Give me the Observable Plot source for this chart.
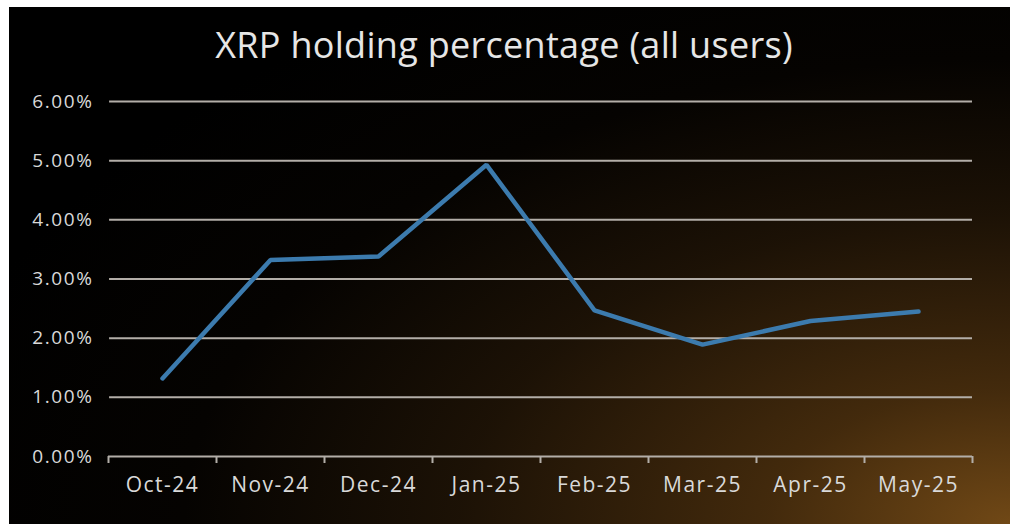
<!DOCTYPE html>
<html>
<head>
<meta charset="utf-8">
<script src="https://cdn.jsdelivr.net/npm/d3@7"></script>
<script src="https://cdn.jsdelivr.net/npm/@observablehq/plot@0.6"></script>
<style>
  html, body { margin: 0; padding: 0; background: #fff; }
  #frame {
    position: absolute; left: 9px; top: 7px; width: 1001px; height: 517px;
    background:
      radial-gradient(ellipse 110% 120% at 100% 100%, rgba(112,72,22,1) 0%, rgba(70,44,13,0.95) 22%, rgba(35,22,7,0.8) 50%, rgba(10,6,2,0.5) 75%, rgba(0,0,0,0) 100%),
      #000;
    overflow: hidden;
    font-family: "Open Sans", "Noto Sans", sans-serif;
  }
  #title {
    position: absolute; left: 0; top: 13px; width: 990px; text-align: center;
    color: #e6e6e6; font-size: 36px; font-weight: 400; letter-spacing: 0.3px;
  }
  #chart { position: absolute; left: 0; top: 60px; }
  #chart svg g[aria-label="y-axis tick label"] text { letter-spacing: 1.6px; }
  #chart svg g[aria-label="x-axis tick label"] text { letter-spacing: 1.5px; }
</style>
</head>
<body>
<div id="frame">
  <div id="title">XRP holding percentage (all users)</div>
  <div id="chart"></div>
</div>
<script>
const months = ["Oct-24","Nov-24","Dec-24","Jan-25","Feb-25","Mar-25","Apr-25","May-25"];
const values = [1.32, 3.32, 3.38, 4.93, 2.47, 1.89, 2.29, 2.45];
const yTicks = [0, 1, 2, 3, 4, 5, 6];

const data = months.map((m, i) => ({i, month: m, value: values[i]}));
const boundaries = d3.range(-0.5, months.length, 1);
const grid = yTicks.filter(v => v > 0);

const plot = Plot.plot({
  width: 1001,
  height: 457,
  marginLeft: 99,
  marginRight: 38,
  marginTop: 34,
  marginBottom: 68,
  style: {background: "transparent", color: "#d9d9d9", fontFamily: "'Open Sans', 'Noto Sans', sans-serif"},
  x: {domain: [-0.5, months.length - 0.5], axis: null},
  y: {domain: [0, 6], axis: null},
  marks: [
    Plot.ruleY(grid, {y: d => d, stroke: "#b3aea8", strokeWidth: 2, x1: -0.49, x2: months.length - 0.5}),
    Plot.axisY(yTicks, {
      tickSize: 0, tickPadding: 15, fontSize: 19, fill: "#d9d9d9",
      tickFormat: d => d.toFixed(2) + "%", label: null
    }),
    Plot.ruleY([0], {stroke: "#b3aea8", strokeWidth: 2}),
    Plot.axisX(boundaries, {
      tickSize: 7, tickFormat: () => "", stroke: "#b3aea8", strokeWidth: 2, label: null
    }),
    Plot.axisX(d3.range(months.length), {
      tickSize: 0, tickPadding: 21, fontSize: 21, fill: "#d9d9d9",
      tickFormat: i => months[i], label: null
    }),
    Plot.line(data, {x: "i", y: "value", stroke: "#3c7bae", strokeWidth: 4.5, strokeLinejoin: "miter", strokeLinecap: "round"})
  ]
});
document.getElementById("chart").appendChild(plot);
</script>
</body>
</html>
